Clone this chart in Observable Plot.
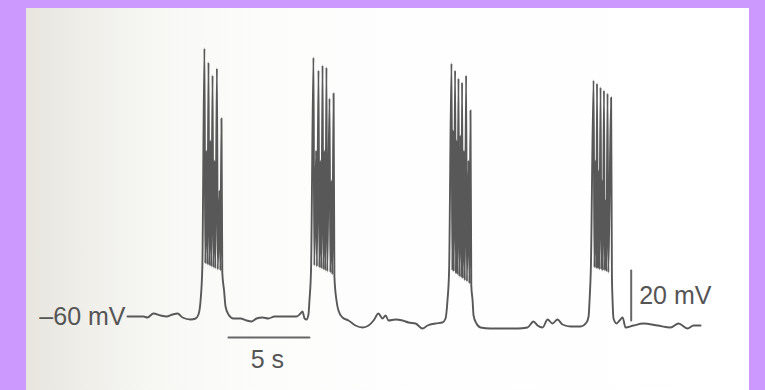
<!DOCTYPE html>
<html>
<head>
<meta charset="utf-8">
<script src="https://cdn.jsdelivr.net/npm/d3@7"></script>
<script src="https://cdn.jsdelivr.net/npm/@observablehq/plot@0.6"></script>
<style>
  html, body { margin: 0; padding: 0; background: #cc99ff; }
  #wrap { position: relative; width: 765px; height: 390px; background: #cc99ff; overflow: hidden; }
  #paper { position: absolute; left: 26px; top: 8px; width: 723px; height: 382px;
    background: linear-gradient(to right, #e7e5de 0%, #efeee9 8%, #f7f7f4 18%, #fcfcfb 32%, #fefefe 55%, #ffffff 100%); }
  #chart { position: absolute; left: 0; top: 0; }
</style>
</head>
<body>
<div id="wrap"><div id="paper"></div><div id="chart"></div></div>
<script>
// ---- Quiet (inter-burst) segments: time (s) and membrane potential (mV)
const quietT = [
  [0, 0.49, 0.99, 1.23, 1.60, 2.04, 2.41, 2.78, 3.09, 3.40, 3.89, 4.20, 4.38, 4.51, 4.62],
  [5.96, 6.05, 6.23, 6.54, 6.98, 7.35, 7.65, 7.96, 8.33, 8.70, 9.07, 9.44, 9.94, 10.43, 10.68, 10.80, 10.93, 11.05, 11.17, 11.23, 11.33],
  [12.90, 13.02, 13.27, 13.64, 14.07, 14.51, 14.88, 15.19, 15.49, 15.74, 15.93, 16.11, 16.54, 16.98, 17.35, 17.78, 18.21, 18.52, 19.01, 19.44, 19.63, 19.75, 19.85],
  [21.30, 21.36, 21.54, 21.79, 22.41, 23.21, 24.07, 24.69, 25.06, 25.31, 25.62, 25.93, 26.23, 26.54, 26.85, 27.35, 27.96, 28.33, 28.46, 28.52, 28.60],
  [29.94, 30.00, 30.19, 30.37, 30.56, 30.74, 31.23, 31.85, 32.72, 33.52, 34.01, 34.57, 34.94, 35.37]
];
const quietV = [
  [-60, -60, -60, -60.4, -58.8, -59.6, -60, -59.2, -58.8, -60.4, -61.2, -60.8, -59.2, -53.6, -39.6],
  [-49.6, -56, -59.2, -60.8, -60.8, -61.6, -62, -60.8, -60.4, -60.8, -60, -60, -60, -60, -58.8, -58, -60.8, -61.2, -59.2, -53.6, -40.8],
  [-53.6, -57.6, -60.4, -61.6, -63.6, -64.4, -63.6, -61.6, -58.8, -60.8, -59.6, -61.6, -61.2, -61.6, -62.4, -62.8, -64.8, -63.6, -62.8, -62.4, -60.8, -53.6, -41.6],
  [-53.6, -59.6, -62.8, -64.4, -64.8, -64.8, -64.8, -64.4, -62, -63.6, -64.4, -61.2, -62.8, -61.2, -63.2, -64, -64, -62.4, -60, -53.6, -40.8],
  [-53.6, -60.8, -62.8, -61.6, -60.4, -64.4, -63.6, -62.8, -63.6, -64.4, -62.8, -64.8, -63.6, -63.6]
];

// ---- Bursts: spike times (s), spike peaks (mV), trough after each spike (mV)
const spikeT = [
  [4.75, 4.88, 5.00, 5.12, 5.25, 5.37, 5.52, 5.68, 5.80],
  [11.48, 11.64, 11.79, 11.91, 12.04, 12.16, 12.28, 12.47, 12.59, 12.72],
  [20.00, 20.09, 20.22, 20.31, 20.43, 20.56, 20.65, 20.77, 20.90, 21.05, 21.17],
  [28.77, 28.89, 28.98, 29.07, 29.20, 29.29, 29.41, 29.51, 29.63, 29.85]
];
const spikePeak = [
  [47.2, 6.4, 41.6, 10.4, 36.4, 2.4, 39.2, -9.6, 19.2],
  [43.6, 6.4, 38.4, 2.4, 40.4, 6.4, 39.6, 27.2, -5.6, 29.2],
  [41.2, 14.4, 38.4, 10.4, 35.2, 12.4, 33.6, 6.4, 36.4, 2.4, 22.4],
  [34.4, 2.4, 33.2, -1.6, 31.6, -5.6, 30.4, -13.6, 29.2, 27.6]
];
const spikeTrough = [
  [-38.8, -39.2, -39.6, -40, -40.4, -40.8, -41.2, -41.6, -42.4],
  [-39.6, -40, -40.4, -40.8, -41.2, -41.6, -42, -42.4, -43.2, -44],
  [-41.6, -42, -42.8, -43.2, -44, -44.4, -44.8, -45.6, -46, -46.8, -47.6],
  [-40.4, -40.8, -40.8, -41.2, -41.2, -41.6, -41.6, -42, -42.4, -43.2]
];

// ---- Scale bars and labels
const restLabel = "\u201360 mV";
const restV = -60;
const timeBarT = [6.23, 11.23];   // 5 s
const timeBarV = -68.4;
const timeBarLabel = "5 s";
const voltBarT = 31.09;
const voltBarV = [-61.6, -41.6];  // 20 mV
const voltBarLabel = "20 mV";

// ---- Build trace
const trace = [];
for (let i = 0; i < quietT.length; i++) {
  quietT[i].forEach((t, j) => trace.push({t, v: quietV[i][j]}));
  if (i < spikeT.length) {
    spikeT[i].forEach((t, j) => {
      trace.push({t, v: spikePeak[i][j]});
      trace.push({t: t + 0.05, v: spikeTrough[i][j]});
    });
  }
}

const font = "'Liberation Sans', Arial, sans-serif";
const plot = Plot.plot({
  width: 765,
  height: 390,
  margin: 0,
  style: {background: "transparent", fontFamily: font},
  x: {domain: [-7.84, 39.38], axis: null},
  y: {domain: [-89.6, 66.4], axis: null},
  marks: [
    Plot.line(trace, {x: "t", y: "v", stroke: "#585858", strokeWidth: 1.9, curve: "monotone-x", strokeLinejoin: "round"}),
    Plot.line(timeBarT.map(t => ({t, v: timeBarV})), {x: "t", y: "v", stroke: "#666", strokeWidth: 2}),
    Plot.line(voltBarV.map(v => ({t: voltBarT, v})), {x: "t", y: "v", stroke: "#666", strokeWidth: 2}),
    Plot.text([restLabel], {x: () => quietT[0][0], y: () => restV, text: d => d, textAnchor: "end", dx: -2, fontSize: 25, fill: "#555"}),
    Plot.text([timeBarLabel], {x: () => (timeBarT[0] + timeBarT[1]) / 2 - 0.1, y: () => timeBarV - 8.8, text: d => d, fontSize: 25, fill: "#555"}),
    Plot.text([voltBarLabel], {x: () => voltBarT, y: () => (voltBarV[0] + voltBarV[1]) / 2, text: d => d, textAnchor: "start", dx: 8, fontSize: 25, fill: "#555"})
  ]
});
document.getElementById("chart").appendChild(plot);
</script>
</body>
</html>
